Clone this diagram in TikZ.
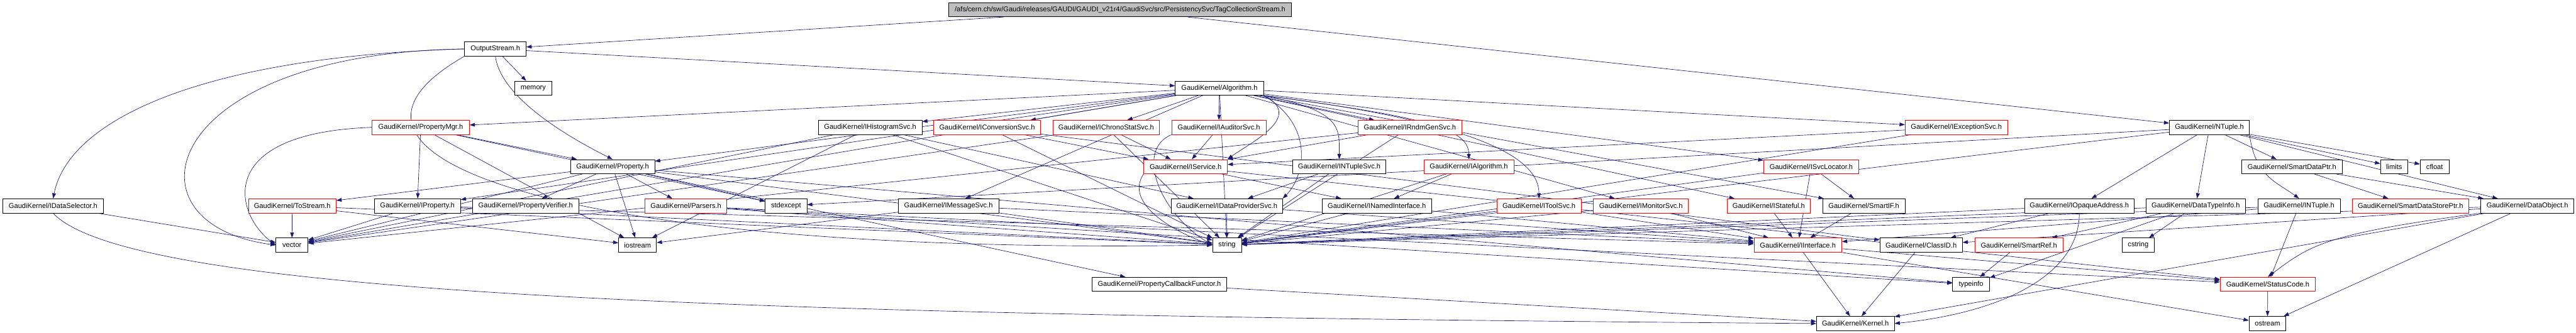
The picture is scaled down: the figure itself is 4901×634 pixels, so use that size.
\documentclass[tikz,border=0pt]{standalone}
\usepackage{fontspec}
\setmainfont{Liberation Sans}
\usetikzlibrary{arrows.meta,backgrounds}

\definecolor{edgeblue}{HTML}{191970}
\definecolor{rootgray}{HTML}{BFBFBF}

\begin{document}
\begin{tikzpicture}[
  x=1pt, y=-1pt,
  box/.style={draw=black, fill=white, line width=0.9pt, minimum height=27pt, inner sep=0pt,
    font=\fontsize{13.3}{15}\selectfont},
  redbox/.style={box, draw=red},
  rootbox/.style={box, fill=rootgray},
  arrow/.style={-{Triangle[length=10pt,width=7pt]}, draw=edgeblue, line width=0.8pt},
]
  \useasboundingbox (0,0) rectangle (4901,634);

  % row 0 and 1
  \node[rootbox, minimum width=652pt] (root) at (2131,18.5) {/afs/cern.ch/sw/Gaudi/releases/GAUDI/GAUDI\_v21r4/GaudiSvc/src/PersistencySvc/TagCollectionStream.h};
  \node[box, minimum width=117pt] (outstream) at (942.5,93.2) {OutputStream.h};

  % row 2
  \node[box, minimum width=71pt] (memory) at (1014.5,167.9) {memory};
  \node[box, minimum width=168pt] (algorithm) at (2320,167.9) {GaudiKernel/Algorithm.h};

  % row 3
  \node[redbox, minimum width=185pt] (propmgr) at (800.5,242.6) {GaudiKernel/PropertyMgr.h};
  \node[box, minimum width=197pt] (ihistsvc) at (1655.5,242.6) {GaudiKernel/IHistogramSvc.h};
  \node[redbox, minimum width=203pt] (iconvsvc) at (1878,242.6) {GaudiKernel/IConversionSvc.h};
  \node[redbox, minimum width=203pt] (ichronosvc) at (2104.5,242.6) {GaudiKernel/IChronoStatSvc.h};
  \node[redbox, minimum width=180pt] (iauditsvc) at (2319,242.6) {GaudiKernel/IAuditorSvc.h};
  \node[redbox, minimum width=197pt] (irndmsvc) at (2682.5,242.6) {GaudiKernel/IRndmGenSvc.h};
  \node[redbox, minimum width=195pt] (iexcsvc) at (3722,242.6) {GaudiKernel/IExceptionSvc.h};
  \node[box, minimum width=152pt] (ntuple) at (4203.5,242.6) {GaudiKernel/NTuple.h};

  % row 4
  \node[box, minimum width=160pt] (property) at (1165.5,317.3) {GaudiKernel/Property.h};
  \node[redbox, minimum width=159pt] (iservice) at (2255.7,317.3) {GaudiKernel/IService.h};
  \node[box, minimum width=177pt] (intuplesvc) at (2548,317.3) {GaudiKernel/INTupleSvc.h};
  \node[redbox, minimum width=171pt] (ialgorithm) at (2794.5,317.3) {GaudiKernel/IAlgorithm.h};
  \node[redbox, minimum width=181pt] (isvcloc) at (3446,317.3) {GaudiKernel/ISvcLocator.h};
  \node[box, minimum width=191pt] (smartdataptr) at (4360.5,317.3) {GaudiKernel/SmartDataPtr.h};
  \node[box, minimum width=52pt] (limits) at (4555,317.3) {limits};
  \node[box, minimum width=55pt] (cfloat) at (4632,317.3) {cfloat};

  % row 5
  \node[box, minimum width=191pt] (idatasel) at (101,392) {GaudiKernel/IDataSelector.h};
  \node[redbox, minimum width=167pt] (tostream) at (556,392) {GaudiKernel/ToStream.h};
  \node[box, minimum width=164pt] (iproperty) at (794,392) {GaudiKernel/IProperty.h};
  \node[box, minimum width=202pt] (propverifier) at (1000,392) {GaudiKernel/PropertyVerifier.h};
  \node[redbox, minimum width=156pt] (parsers) at (1305,392) {GaudiKernel/Parsers.h};
  \node[box, minimum width=79pt] (stdexcept) at (1495.5,392) {stdexcept};
  \node[box, minimum width=191pt] (imsgsvc) at (1804.5,392) {GaudiKernel/IMessageSvc.h};
  \node[box, minimum width=212pt] (idpsvc) at (2334,392) {GaudiKernel/IDataProviderSvc.h};
  \node[box, minimum width=209pt] (inamedif) at (2619.5,392) {GaudiKernel/INamedInterface.h};
  \node[redbox, minimum width=160pt] (itoolsvc) at (2928,392) {GaudiKernel/IToolSvc.h};
  \node[redbox, minimum width=181pt] (imonsvc) at (3122,392) {GaudiKernel/IMonitorSvc.h};
  \node[redbox, minimum width=158pt] (istateful) at (3365,392) {GaudiKernel/IStateful.h};
  \node[box, minimum width=157pt] (smartif) at (3546,392) {GaudiKernel/SmartIF.h};
  \node[box, minimum width=209pt] (iopaque) at (3956,392) {GaudiKernel/IOpaqueAddress.h};
  \node[box, minimum width=189pt] (datatypeinfo) at (4177.5,392) {GaudiKernel/DataTypeInfo.h};
  \node[box, minimum width=157pt] (intuple) at (4374,392) {GaudiKernel/INTuple.h};
  \node[redbox, minimum width=222pt] (smartdsptr) at (4586,392) {GaudiKernel/SmartDataStorePtr.h};
  \node[box, minimum width=177pt] (dataobject) at (4808.5,392) {GaudiKernel/DataObject.h};

  % row 6
  \node[box, minimum width=61pt] (vector) at (555.5,466.7) {vector};
  \node[box, minimum width=72pt] (iostream) at (1213,466.7) {iostream};
  \node[box, minimum width=55pt] (string) at (2334.5,466.7) {string};
  \node[redbox, minimum width=167pt] (iinterface) at (3420.5,466.7) {GaudiKernel/IInterface.h};
  \node[box, minimum width=157pt] (classid) at (3655,466.7) {GaudiKernel/ClassID.h};
  \node[redbox, minimum width=168pt] (smartref) at (3841,466.7) {GaudiKernel/SmartRef.h};
  \node[box, minimum width=62pt] (cstring) at (4068,466.7) {cstring};

  % row 7 and 8
  \node[box, minimum width=256pt] (propcbf) at (2205.7,541.4) {GaudiKernel/PropertyCallbackFunctor.h};
  \node[box, minimum width=70pt] (typeinfo) at (3750,541.4) {typeinfo};
  \node[redbox, minimum width=181pt] (statuscode) at (4314.5,541.4) {GaudiKernel/StatusCode.h};
  \node[box, minimum width=148pt] (kernel) at (3530,616.1) {GaudiKernel/Kernel.h};
  \node[box, minimum width=70pt] (ostream) at (4314,616.1) {ostream};

  \begin{scope}[on background layer]
  % top file
  \draw[arrow] (root) -- (outstream);
  \draw[arrow] (root) -- (ntuple);

  % OutputStream.h
  \draw[arrow] (outstream.west) .. controls +(-500,15) and +(30,-150) .. (idatasel.north);
  \draw[arrow] (outstream.west) .. controls +(-580,8) and +(-300,-40) .. (vector.west);
  \draw[arrow] (outstream) -- (memory);
  \draw[arrow] (outstream.south) .. controls +(10,80) and +(-80,-40) .. (property.north);
  \draw[arrow] (outstream) -- (algorithm);
  \draw[arrow] (outstream.south west) .. controls +(-350,200) and +(-1200,20) .. (string.west);

  % Algorithm.h
  \draw[arrow] (algorithm) -- (propmgr);
  \draw[arrow] (algorithm) -- (ihistsvc);
  \draw[arrow] (algorithm) -- (iconvsvc);
  \draw[arrow] (algorithm) -- (ichronosvc);
  \draw[arrow] (algorithm) -- (iauditsvc);
  \draw[arrow] (algorithm) -- (irndmsvc);
  \draw[arrow] (algorithm) -- (iexcsvc);
  \draw[arrow] (algorithm) -- (property);
  \draw[arrow] (algorithm.south east) .. controls +(80,40) and +(40,-30) .. (iservice.north east);
  \draw[arrow] (algorithm.south east) .. controls +(150,30) and +(0,-60) .. (intuplesvc.north);
  \draw[arrow] (algorithm.south east) .. controls +(300,40) and +(0,-60) .. (ialgorithm.north);
  \draw[arrow] (algorithm) -- (isvcloc);
  \draw[arrow] (algorithm) -- (iproperty);
  \draw[arrow] (algorithm) -- (imsgsvc);
  \draw[arrow] (algorithm.south east) .. controls +(100,60) and +(40,-40) .. (idpsvc.north east);
  \draw[arrow] (algorithm.south east) .. controls +(400,50) and +(0,-80) .. (itoolsvc.north);
  \draw[arrow] (algorithm) -- (imonsvc);
  \draw[arrow] (algorithm) -- (istateful);
  \draw[arrow] (algorithm) -- (smartif);
  \draw[arrow] (algorithm) -- (string);
  \draw[arrow] (algorithm) -- (vector);

  % PropertyMgr.h
  \draw[arrow] (propmgr) -- (property);
  \draw[arrow] (propmgr) -- (iproperty);
  \draw[arrow] (propmgr) -- (stdexcept);
  \draw[arrow] (propmgr.west) .. controls +(-300,10) and +(-80,-60) .. (vector.west);
  \draw[arrow] (propmgr) -- (iostream);

  % row 3 interfaces
  \draw[arrow] (ihistsvc) -- (idpsvc);
  \draw[arrow] (ihistsvc) -- (string);
  \draw[arrow] (ihistsvc) -- (vector);
  \draw[arrow] (ihistsvc) -- (iostream);
  \draw[arrow] (iconvsvc) -- (iservice);
  \draw[arrow] (iconvsvc) -- (string);
  \draw[arrow] (iconvsvc) -- (classid);
  \draw[arrow] (ichronosvc) -- (iservice);
  \draw[arrow] (ichronosvc) -- (string);
  \draw[arrow] (ichronosvc) -- (vector);
  \draw[arrow] (iauditsvc) -- (iservice);
  \draw[arrow] (iauditsvc.south west) .. controls +(-70,30) and +(-100,-60) .. (string.west);
  \draw[arrow] (irndmsvc) -- (iservice);
  \draw[arrow] (irndmsvc) -- (string);
  \draw[arrow] (irndmsvc) -- (vector);
  \draw[arrow] (iexcsvc) -- (iservice);
  \draw[arrow] (iexcsvc) -- (string);

  % NTuple.h
  \draw[arrow] (ntuple) -- (iopaque);
  \draw[arrow] (ntuple) -- (datatypeinfo);
  \draw[arrow] (ntuple.south east) .. controls +(10,80) and +(-40,-30) .. (intuple.north);
  \draw[arrow] (ntuple) -- (smartdataptr);
  \draw[arrow] (ntuple) -- (limits);
  \draw[arrow] (ntuple) -- (cfloat);
  \draw[arrow] (ntuple) -- (dataobject);
  \draw[arrow] (ntuple) -- (stdexcept);
  \draw[arrow] (ntuple) -- (string);

  % Property.h
  \draw[arrow] (property) -- (propverifier);
  \draw[arrow] (property) -- (tostream);
  \draw[arrow] (property) -- (parsers);
  \draw[arrow] (property) -- (stdexcept);
  \draw[arrow] (property) -- (iostream);
  \draw[arrow] (property) -- (propcbf);
  \draw[arrow] (property) -- (string);
  \draw[arrow] (property) -- (vector);
  \draw[arrow] (property) -- (typeinfo);

  % row 4 interfaces
  \draw[arrow] (iservice) -- (inamedif);
  \draw[arrow] (iservice.south west) .. controls +(-40,60) and +(-60,-20) .. (string.west);
  \draw[arrow] (iservice) -- (statuscode);
  \draw[arrow] (intuplesvc) -- (idpsvc);
  \draw[arrow] (intuplesvc) -- (string);
  \draw[arrow] (ialgorithm) -- (inamedif);
  \draw[arrow] (ialgorithm) -- (string);
  \draw[arrow] (isvcloc) -- (smartif);
  \draw[arrow] (isvcloc) -- (iinterface);
  \draw[arrow] (isvcloc) -- (string);
  \draw[arrow] (smartdataptr) -- (smartdsptr);
  \draw[arrow] (smartdataptr) -- (dataobject);

  % row 5
  \draw[arrow] (idatasel) -- (vector);
  \draw[arrow] (idatasel.south) .. controls +(150,160) and +(-2000,-15) .. (kernel.west);
  \draw[arrow] (tostream) -- (vector);
  \draw[arrow] (tostream) -- (string);
  \draw[arrow] (tostream) -- (iostream);
  \draw[arrow] (iproperty) -- (iinterface);
  \draw[arrow] (iproperty) -- (string);
  \draw[arrow] (iproperty) -- (vector);
  \draw[arrow] (parsers) -- (string);
  \draw[arrow] (parsers) -- (statuscode);
  \draw[arrow] (parsers) -- (typeinfo);
  \draw[arrow] (imsgsvc) -- (string);
  \draw[arrow] (imsgsvc) -- (iostream);
  \draw[arrow] (imsgsvc) -- (iinterface);
  \draw[arrow] (idpsvc) -- (string);
  \draw[arrow] (idpsvc) -- (iinterface);
  \draw[arrow] (inamedif) -- (iinterface);
  \draw[arrow] (inamedif) -- (string);
  \draw[arrow] (itoolsvc) -- (iinterface);
  \draw[arrow] (itoolsvc) -- (string);
  \draw[arrow] (imonsvc) -- (iinterface);
  \draw[arrow] (imonsvc) -- (string);
  \draw[arrow] (istateful) -- (iinterface);
  \draw[arrow] (smartif) -- (iinterface);
  \draw[arrow] (iopaque) -- (classid);
  \draw[arrow] (iopaque.south) .. controls +(0,120) and +(200,-20) .. (kernel.east);
  \draw[arrow] (iopaque) -- (string);
  \draw[arrow] (datatypeinfo) -- (cstring);
  \draw[arrow] (datatypeinfo) -- (smartref);
  \draw[arrow] (datatypeinfo) -- (string);
  \draw[arrow] (datatypeinfo) -- (typeinfo);
  \draw[arrow] (intuple) -- (statuscode);
  \draw[arrow] (intuple) -- (string);
  \draw[arrow] (intuple) -- (iinterface);
  \draw[arrow] (dataobject.south west) .. controls +(-300,40) and +(80,-60) .. (statuscode.north);
  \draw[arrow] (dataobject) -- (ostream);
  \draw[arrow] (dataobject) -- (classid);
  \draw[arrow] (dataobject) -- (string);
  \draw[arrow] (dataobject) -- (kernel);

  % rows 6 to 8
  \draw[arrow] (iinterface) -- (kernel);
  \draw[arrow] (iinterface) -- (statuscode);
  \draw[arrow] (iinterface) -- (ostream);
  \draw[arrow] (classid) -- (kernel);
  \draw[arrow] (smartref) -- (typeinfo);
  \draw[arrow] (statuscode) -- (ostream);
  \draw[arrow] (propcbf) -- (kernel);
  \end{scope}
\end{tikzpicture}
\end{document}
